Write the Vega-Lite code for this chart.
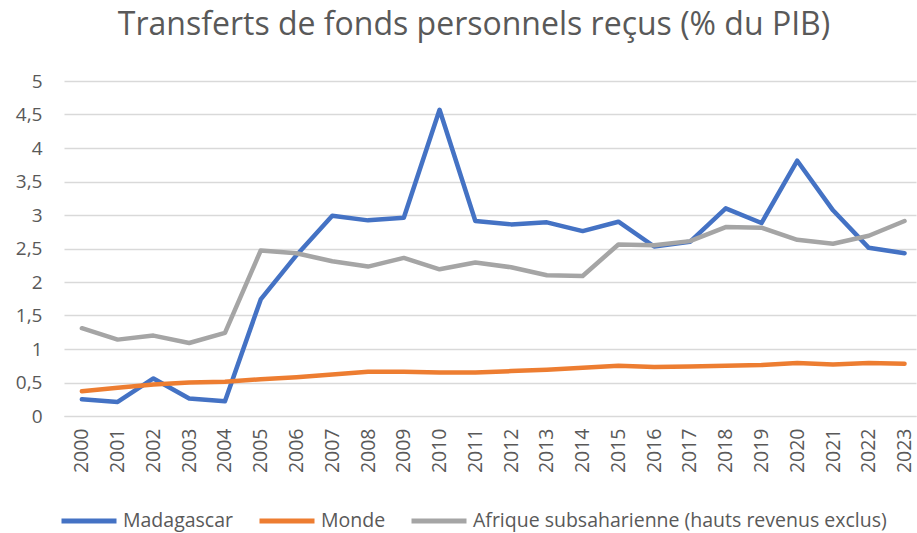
{
  "$schema": "https://vega.github.io/schema/vega-lite/v6.json",
  "width": 852,
  "height": 335,
  "autosize": {"type": "none"},
  "padding": {"left": 64, "top": 81, "right": 1, "bottom": 117},
  "background": "white",
  "title": {
    "text": "Transferts de fonds personnels reçus (% du PIB)",
    "font": "Open Sans",
    "fontSize": 32,
    "fontWeight": "normal",
    "color": "#595959",
    "anchor": "middle",
    "dx": -16,
    "offset": 30
  },
  "config": {
    "view": {"stroke": null},
    "font": "Open Sans"
  },
  "data": {
    "values": [
      {"annee": 2000, "serie": "Madagascar", "valeur": 0.25},
      {"annee": 2001, "serie": "Madagascar", "valeur": 0.21},
      {"annee": 2002, "serie": "Madagascar", "valeur": 0.56},
      {"annee": 2003, "serie": "Madagascar", "valeur": 0.26},
      {"annee": 2004, "serie": "Madagascar", "valeur": 0.22},
      {"annee": 2005, "serie": "Madagascar", "valeur": 1.74},
      {"annee": 2006, "serie": "Madagascar", "valeur": 2.40},
      {"annee": 2007, "serie": "Madagascar", "valeur": 2.99},
      {"annee": 2008, "serie": "Madagascar", "valeur": 2.92},
      {"annee": 2009, "serie": "Madagascar", "valeur": 2.96},
      {"annee": 2010, "serie": "Madagascar", "valeur": 4.57},
      {"annee": 2011, "serie": "Madagascar", "valeur": 2.91},
      {"annee": 2012, "serie": "Madagascar", "valeur": 2.86},
      {"annee": 2013, "serie": "Madagascar", "valeur": 2.89},
      {"annee": 2014, "serie": "Madagascar", "valeur": 2.76},
      {"annee": 2015, "serie": "Madagascar", "valeur": 2.90},
      {"annee": 2016, "serie": "Madagascar", "valeur": 2.53},
      {"annee": 2017, "serie": "Madagascar", "valeur": 2.60},
      {"annee": 2018, "serie": "Madagascar", "valeur": 3.10},
      {"annee": 2019, "serie": "Madagascar", "valeur": 2.88},
      {"annee": 2020, "serie": "Madagascar", "valeur": 3.81},
      {"annee": 2021, "serie": "Madagascar", "valeur": 3.07},
      {"annee": 2022, "serie": "Madagascar", "valeur": 2.51},
      {"annee": 2023, "serie": "Madagascar", "valeur": 2.43},
      {"annee": 2000, "serie": "Monde", "valeur": 0.37},
      {"annee": 2001, "serie": "Monde", "valeur": 0.42},
      {"annee": 2002, "serie": "Monde", "valeur": 0.47},
      {"annee": 2003, "serie": "Monde", "valeur": 0.50},
      {"annee": 2004, "serie": "Monde", "valeur": 0.51},
      {"annee": 2005, "serie": "Monde", "valeur": 0.55},
      {"annee": 2006, "serie": "Monde", "valeur": 0.58},
      {"annee": 2007, "serie": "Monde", "valeur": 0.62},
      {"annee": 2008, "serie": "Monde", "valeur": 0.66},
      {"annee": 2009, "serie": "Monde", "valeur": 0.66},
      {"annee": 2010, "serie": "Monde", "valeur": 0.65},
      {"annee": 2011, "serie": "Monde", "valeur": 0.65},
      {"annee": 2012, "serie": "Monde", "valeur": 0.67},
      {"annee": 2013, "serie": "Monde", "valeur": 0.69},
      {"annee": 2014, "serie": "Monde", "valeur": 0.72},
      {"annee": 2015, "serie": "Monde", "valeur": 0.75},
      {"annee": 2016, "serie": "Monde", "valeur": 0.73},
      {"annee": 2017, "serie": "Monde", "valeur": 0.74},
      {"annee": 2018, "serie": "Monde", "valeur": 0.75},
      {"annee": 2019, "serie": "Monde", "valeur": 0.76},
      {"annee": 2020, "serie": "Monde", "valeur": 0.79},
      {"annee": 2021, "serie": "Monde", "valeur": 0.77},
      {"annee": 2022, "serie": "Monde", "valeur": 0.79},
      {"annee": 2023, "serie": "Monde", "valeur": 0.78},
      {"annee": 2000, "serie": "Afrique subsaharienne (hauts revenus exclus)", "valeur": 1.31},
      {"annee": 2001, "serie": "Afrique subsaharienne (hauts revenus exclus)", "valeur": 1.14},
      {"annee": 2002, "serie": "Afrique subsaharienne (hauts revenus exclus)", "valeur": 1.20},
      {"annee": 2003, "serie": "Afrique subsaharienne (hauts revenus exclus)", "valeur": 1.09},
      {"annee": 2004, "serie": "Afrique subsaharienne (hauts revenus exclus)", "valeur": 1.24},
      {"annee": 2005, "serie": "Afrique subsaharienne (hauts revenus exclus)", "valeur": 2.47},
      {"annee": 2006, "serie": "Afrique subsaharienne (hauts revenus exclus)", "valeur": 2.43},
      {"annee": 2007, "serie": "Afrique subsaharienne (hauts revenus exclus)", "valeur": 2.31},
      {"annee": 2008, "serie": "Afrique subsaharienne (hauts revenus exclus)", "valeur": 2.23},
      {"annee": 2009, "serie": "Afrique subsaharienne (hauts revenus exclus)", "valeur": 2.36},
      {"annee": 2010, "serie": "Afrique subsaharienne (hauts revenus exclus)", "valeur": 2.19},
      {"annee": 2011, "serie": "Afrique subsaharienne (hauts revenus exclus)", "valeur": 2.29},
      {"annee": 2012, "serie": "Afrique subsaharienne (hauts revenus exclus)", "valeur": 2.22},
      {"annee": 2013, "serie": "Afrique subsaharienne (hauts revenus exclus)", "valeur": 2.10},
      {"annee": 2014, "serie": "Afrique subsaharienne (hauts revenus exclus)", "valeur": 2.09},
      {"annee": 2015, "serie": "Afrique subsaharienne (hauts revenus exclus)", "valeur": 2.56},
      {"annee": 2016, "serie": "Afrique subsaharienne (hauts revenus exclus)", "valeur": 2.55},
      {"annee": 2017, "serie": "Afrique subsaharienne (hauts revenus exclus)", "valeur": 2.61},
      {"annee": 2018, "serie": "Afrique subsaharienne (hauts revenus exclus)", "valeur": 2.82},
      {"annee": 2019, "serie": "Afrique subsaharienne (hauts revenus exclus)", "valeur": 2.81},
      {"annee": 2020, "serie": "Afrique subsaharienne (hauts revenus exclus)", "valeur": 2.63},
      {"annee": 2021, "serie": "Afrique subsaharienne (hauts revenus exclus)", "valeur": 2.57},
      {"annee": 2022, "serie": "Afrique subsaharienne (hauts revenus exclus)", "valeur": 2.69},
      {"annee": 2023, "serie": "Afrique subsaharienne (hauts revenus exclus)", "valeur": 2.91}
    ]
  },
  "mark": {"type": "line", "strokeWidth": 4.5, "strokeCap": "round", "strokeJoin": "round"},
  "encoding": {
    "x": {
      "field": "annee",
      "type": "quantitative",
      "scale": {"domain": [1999.5, 2023.32], "nice": false, "zero": false},
      "axis": {
        "title": null,
        "values": [2000,2001,2002,2003,2004,2005,2006,2007,2008,2009,2010,2011,2012,2013,2014,2015,2016,2017,2018,2019,2020,2021,2022,2023],
        "format": "d",
        "labelAngle": -90,
        "labelAlign": "right",
        "labelBaseline": "middle",
        "labelFont": "Open Sans",
        "labelFontSize": 19.5,
        "labelColor": "#595959",
        "labelPadding": 12,
        "ticks": false,
        "grid": false,
        "domain": true,
        "domainColor": "#d9d9d9",
        "domainWidth": 1,
        "labelOverlap": false,
        "labelFlush": false
      }
    },
    "y": {
      "field": "valeur",
      "type": "quantitative",
      "scale": {"domain": [0, 5], "nice": false},
      "axis": {
        "title": null,
        "values": [0, 0.5, 1, 1.5, 2, 2.5, 3, 3.5, 4, 4.5, 5],
        "labelExpr": "replace(format(datum.value, '.1~f'), '.', ',')",
        "labelFont": "Open Sans",
        "labelFontSize": 19,
        "labelColor": "#595959",
        "labelPadding": 22,
        "ticks": false,
        "domain": false,
        "grid": true,
        "gridColor": "#d9d9d9",
        "gridWidth": 1.3
      }
    },
    "color": {
      "field": "serie",
      "type": "nominal",
      "scale": {
        "domain": ["Madagascar", "Monde", "Afrique subsaharienne (hauts revenus exclus)"],
        "range": ["#4472C4", "#ED7D31", "#A5A5A5"]
      },
      "legend": {
        "title": null,
        "orient": "none",
        "direction": "horizontal",
        "legendX": -5,
        "legendY": 410,
        "symbolType": "stroke",
        "symbolSize": 3025,
        "symbolStrokeWidth": 5,
        "labelFont": "Open Sans",
        "labelFontSize": 19.5,
        "labelColor": "#595959",
        "labelOffset": 4,
        "columnPadding": 15,
        "labelLimit": 500
      }
    }
  }
}
